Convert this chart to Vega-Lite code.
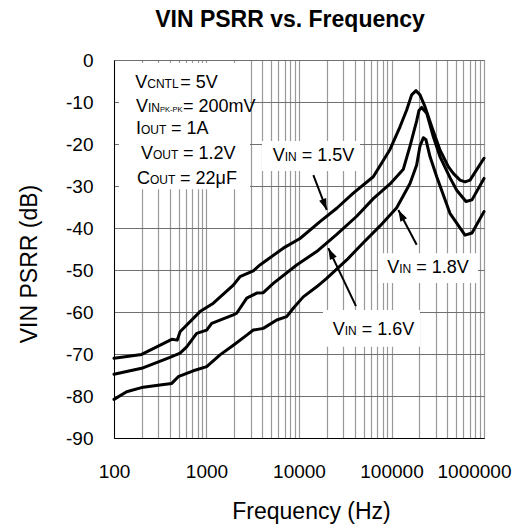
{
  "$schema": "https://vega.github.io/schema/vega-lite/v6.json",
  "width": 370,
  "height": 378,
  "autosize": {"type": "none"},
  "padding": {"left": 114, "top": 60, "right": 42, "bottom": 89},
  "background": "white",
  "config": {
    "view": {"stroke": "#444", "strokeWidth": 1},
    "font": "Liberation Sans"
  },
  "title": {
    "text": "VIN PSRR vs. Frequency",
    "font": "Liberation Sans",
    "fontSize": 23,
    "fontWeight": "bold",
    "color": "black",
    "anchor": "middle",
    "frame": "group",
    "dx": -9,
    "offset": 19
  },
  "datasets": {
    "curves": [
      {"s": "1.5V", "f": 100, "db": -71.0}, {"s": "1.5V", "f": 199, "db": -70.1}, {"s": "1.5V", "f": 421, "db": -66.5},
      {"s": "1.5V", "f": 483, "db": -66.7}, {"s": "1.5V", "f": 518, "db": -64.7}, {"s": "1.5V", "f": 851, "db": -59.9},
      {"s": "1.5V", "f": 1186, "db": -57.9}, {"s": "1.5V", "f": 1950, "db": -53.6}, {"s": "1.5V", "f": 2301, "db": -51.6},
      {"s": "1.5V", "f": 3206, "db": -50.2}, {"s": "1.5V", "f": 3784, "db": -48.8}, {"s": "1.5V", "f": 6761, "db": -44.8},
      {"s": "1.5V", "f": 10257, "db": -42.5}, {"s": "1.5V", "f": 16870, "db": -38.5}, {"s": "1.5V", "f": 25590, "db": -35.3},
      {"s": "1.5V", "f": 38640, "db": -31.7}, {"s": "1.5V", "f": 63530, "db": -27.8}, {"s": "1.5V", "f": 96390, "db": -21.3},
      {"s": "1.5V", "f": 123600, "db": -15.9}, {"s": "1.5V", "f": 145900, "db": -11.9}, {"s": "1.5V", "f": 165200, "db": -8.3},
      {"s": "1.5V", "f": 184100, "db": -7.3}, {"s": "1.5V", "f": 203200, "db": -8.3}, {"s": "1.5V", "f": 230100, "db": -11.1},
      {"s": "1.5V", "f": 272300, "db": -15.9}, {"s": "1.5V", "f": 334200, "db": -21.4}, {"s": "1.5V", "f": 411100, "db": -25.4},
      {"s": "1.5V", "f": 465600, "db": -27.0}, {"s": "1.5V", "f": 550000, "db": -28.6}, {"s": "1.5V", "f": 623700, "db": -29.0},
      {"s": "1.5V", "f": 706300, "db": -28.6}, {"s": "1.5V", "f": 1000000, "db": -23.4},

      {"s": "1.6V", "f": 100, "db": -74.8}, {"s": "1.6V", "f": 199, "db": -73.4}, {"s": "1.6V", "f": 403, "db": -70.8},
      {"s": "1.6V", "f": 518, "db": -69.8}, {"s": "1.6V", "f": 611, "db": -68.3}, {"s": "1.6V", "f": 783, "db": -65.1},
      {"s": "1.6V", "f": 1005, "db": -64.3}, {"s": "1.6V", "f": 1138, "db": -62.7}, {"s": "1.6V", "f": 1950, "db": -60.7},
      {"s": "1.6V", "f": 2118, "db": -60.3}, {"s": "1.6V", "f": 2723, "db": -56.7}, {"s": "1.6V", "f": 3491, "db": -55.5},
      {"s": "1.6V", "f": 4111, "db": -55.4}, {"s": "1.6V", "f": 5272, "db": -53.2}, {"s": "1.6V", "f": 9441, "db": -48.8},
      {"s": "1.6V", "f": 15520, "db": -45.6}, {"s": "1.6V", "f": 25590, "db": -41.5}, {"s": "1.6V", "f": 42070, "db": -37.2},
      {"s": "1.6V", "f": 63530, "db": -33.0}, {"s": "1.6V", "f": 96390, "db": -29.5}, {"s": "1.6V", "f": 134300, "db": -26.0},
      {"s": "1.6V", "f": 158500, "db": -20.5}, {"s": "1.6V", "f": 187100, "db": -14.5}, {"s": "1.6V", "f": 198200, "db": -12.0},
      {"s": "1.6V", "f": 211800, "db": -11.3}, {"s": "1.6V", "f": 240400, "db": -12.7}, {"s": "1.6V", "f": 283300, "db": -18.3},
      {"s": "1.6V", "f": 334200, "db": -23.0}, {"s": "1.6V", "f": 428500, "db": -28.0}, {"s": "1.6V", "f": 507000, "db": -31.0},
      {"s": "1.6V", "f": 638300, "db": -33.7}, {"s": "1.6V", "f": 741300, "db": -33.3}, {"s": "1.6V", "f": 1000000, "db": -28.2},

      {"s": "1.8V", "f": 100, "db": -80.8}, {"s": "1.8V", "f": 137, "db": -79.0}, {"s": "1.8V", "f": 207, "db": -77.9},
      {"s": "1.8V", "f": 314, "db": -77.4}, {"s": "1.8V", "f": 421, "db": -77.0}, {"s": "1.8V", "f": 495, "db": -75.4},
      {"s": "1.8V", "f": 719, "db": -74.0}, {"s": "1.8V", "f": 1005, "db": -73.0}, {"s": "1.8V", "f": 1400, "db": -70.2},
      {"s": "1.8V", "f": 1950, "db": -67.9}, {"s": "1.8V", "f": 2723, "db": -65.5}, {"s": "1.8V", "f": 3206, "db": -64.3},
      {"s": "1.8V", "f": 4111, "db": -63.9}, {"s": "1.8V", "f": 5741, "db": -61.9}, {"s": "1.8V", "f": 7362, "db": -61.1},
      {"s": "1.8V", "f": 8670, "db": -59.1}, {"s": "1.8V", "f": 11117, "db": -56.4}, {"s": "1.8V", "f": 15520, "db": -54.0},
      {"s": "1.8V", "f": 19910, "db": -52.0}, {"s": "1.8V", "f": 32810, "db": -47.6}, {"s": "1.8V", "f": 49550, "db": -43.5},
      {"s": "1.8V", "f": 75160, "db": -39.5}, {"s": "1.8V", "f": 113800, "db": -35.2}, {"s": "1.8V", "f": 158500, "db": -29.4},
      {"s": "1.8V", "f": 187100, "db": -25.0}, {"s": "1.8V", "f": 203200, "db": -20.5}, {"s": "1.8V", "f": 220800, "db": -18.5},
      {"s": "1.8V", "f": 236000, "db": -19.0}, {"s": "1.8V", "f": 260600, "db": -23.0}, {"s": "1.8V", "f": 308300, "db": -27.8},
      {"s": "1.8V", "f": 428500, "db": -36.5}, {"s": "1.8V", "f": 623700, "db": -41.7}, {"s": "1.8V", "f": 741300, "db": -41.2},
      {"s": "1.8V", "f": 1000000, "db": -36.1}
    ],
    "boxes": [
      {"f": 113, "f2": 2950, "db": -0.7, "db2": -30.8},
      {"f": 3981, "f2": 45600, "db": -19.3, "db2": -26.4},
      {"f": 71450, "f2": 861000, "db": -46.0, "db2": -53.1},
      {"f": 18150, "f2": 203200, "db": -59.5, "db2": -68.3}
    ],
    "arrows": [
      {"f": 19950, "db": -35.7, "f2": 14290, "db2": -27.4, "angle": 159},
      {"f": 20750, "db": -44.8, "f2": 41300, "db2": -58.6, "angle": 334},
      {"f": 118600, "db": -35.7, "f2": 187100, "db2": -44.0, "angle": 332}
    ],
    "notes": [
      {"f": 229, "db": -6.6, "big": "V", "small": "CNTL", "tiny": "", "tail": "= 5V", "grp": "CNTL"},
      {"f": 233, "db": -12.4, "big": "V", "small": "IN", "tiny": "PK-PK", "tail": "= 200mV", "grp": "PK"},
      {"f": 196, "db": -17.7, "big": "I", "small": "OUT", "tiny": "", "tail": "= 1A", "grp": "OUT"},
      {"f": 264, "db": -23.6, "big": "V", "small": "OUT", "tiny": "", "tail": "= 1.2V", "grp": "OUT"},
      {"f": 245, "db": -29.6, "big": "C", "small": "OUT", "tiny": "", "tail": "= 22μF", "grp": "OUT"},
      {"f": 7000, "db": -24.0, "big": "V", "small": "IN", "tiny": "", "tail": "= 1.5V", "grp": "IN"},
      {"f": 121400, "db": -50.8, "big": "V", "small": "IN", "tiny": "", "tail": "= 1.8V", "grp": "IN"},
      {"f": 31190, "db": -65.5, "big": "V", "small": "IN", "tiny": "", "tail": "= 1.6V", "grp": "IN"}
    ]
  },
  "encoding": {
    "x": {
      "field": "f",
      "type": "quantitative",
      "scale": {"type": "log", "domain": [100, 1000000], "nice": false},
      "axis": {
        "title": "Frequency (Hz)",
        "values": [100, 200, 300, 400, 500, 600, 700, 800, 900, 1000, 2000, 3000, 4000, 5000, 6000, 7000, 8000, 9000, 10000, 20000, 30000, 40000, 50000, 60000, 70000, 80000, 90000, 100000, 200000, 300000, 400000, 500000, 600000, 700000, 800000, 900000, 1000000],
        "format": "d",
        "labelExpr": "(datum.value == 100 || datum.value == 1000 || datum.value == 10000 || datum.value == 100000 || datum.value == 1000000) ? datum.label : ''",
        "labelFont": "Liberation Sans",
        "labelFontSize": 19,
        "labelColor": "black",
        "labelPadding": 24,
        "labelOverlap": false,
        "labelFlush": false,
        "labelOffset": {"condition": {"test": "datum.value == 1000000", "value": -10}, "value": 0},
        "ticks": false,
        "domainColor": "black",
        "domainWidth": 1,
        "grid": true,
        "gridColor": "#999999",
        "gridWidth": 1.2,
        "titleFont": "Liberation Sans",
        "titleFontSize": 23,
        "titleFontWeight": "normal",
        "titleColor": "black",
        "titleX": 197,
        "titleY": 80,
        "titleAlign": "center",
        "titleBaseline": "alphabetic"
      }
    },
    "y": {
      "field": "db",
      "type": "quantitative",
      "scale": {"domain": [-90, 0], "nice": false, "zero": false},
      "axis": {
        "title": "VIN PSRR (dB)",
        "values": [-90, -80, -70, -60, -50, -40, -30, -20, -10, 0],
        "labelExpr": "'' + datum.value",
        "labelFont": "Liberation Sans",
        "labelFontSize": 19,
        "labelColor": "black",
        "labelPadding": 21,
        "labelOverlap": false,
        "labelFlush": false,
        "ticks": false,
        "domainColor": "black",
        "domainWidth": 1,
        "grid": true,
        "gridColor": "#707070",
        "gridWidth": 1.2,
        "titleFont": "Liberation Sans",
        "titleFontSize": 23,
        "titleFontWeight": "normal",
        "titleColor": "black",
        "titleX": -78,
        "titleY": 203.5,
        "titleAlign": "center",
        "titleBaseline": "alphabetic"
      }
    }
  },
  "layer": [
    {
      "data": {"name": "boxes"},
      "mark": {"type": "rect", "fill": "white", "stroke": null},
      "encoding": {"x2": {"field": "f2"}, "y2": {"field": "db2"}}
    },
    {
      "data": {"name": "curves"},
      "mark": {"type": "line", "color": "black", "strokeWidth": 3, "strokeJoin": "round", "strokeCap": "round"},
      "encoding": {"detail": {"field": "s", "type": "nominal"}}
    },
    {
      "data": {"name": "arrows"},
      "mark": {"type": "rule", "color": "black", "strokeWidth": 2},
      "encoding": {"x2": {"field": "f2"}, "y2": {"field": "db2"}}
    },
    {
      "data": {"name": "arrows"},
      "mark": {"type": "point", "shape": "M0,0 L-0.33,1 L0.33,1 Z", "filled": true, "color": "black", "opacity": 1, "size": 520},
      "encoding": {"angle": {"field": "angle", "type": "quantitative", "scale": null}}
    },
    {
      "data": {"name": "notes"},
      "mark": {"type": "text", "align": "right", "baseline": "alphabetic", "font": "Liberation Sans", "fontSize": 18, "color": "black"},
      "encoding": {"text": {"field": "big"}}
    },
    {
      "data": {"name": "notes"},
      "mark": {"type": "text", "align": "left", "baseline": "alphabetic", "font": "Liberation Sans", "fontSize": 12, "color": "black"},
      "encoding": {"text": {"field": "small"}}
    },
    {
      "data": {"name": "notes"},
      "transform": [{"filter": "datum.tiny != ''"}],
      "mark": {"type": "text", "align": "left", "baseline": "alphabetic", "font": "Liberation Sans", "fontSize": 7.5, "color": "black", "dx": 12},
      "encoding": {"text": {"field": "tiny"}}
    },
    {
      "data": {"name": "notes"},
      "transform": [{"filter": "datum.grp == 'CNTL'"}],
      "mark": {"type": "text", "align": "left", "baseline": "alphabetic", "font": "Liberation Sans", "fontSize": 18, "color": "black", "dx": 33},
      "encoding": {"text": {"field": "tail"}}
    },
    {
      "data": {"name": "notes"},
      "transform": [{"filter": "datum.grp == 'PK'"}],
      "mark": {"type": "text", "align": "left", "baseline": "alphabetic", "font": "Liberation Sans", "fontSize": 18, "color": "black", "dx": 35},
      "encoding": {"text": {"field": "tail"}}
    },
    {
      "data": {"name": "notes"},
      "transform": [{"filter": "datum.grp == 'OUT'"}],
      "mark": {"type": "text", "align": "left", "baseline": "alphabetic", "font": "Liberation Sans", "fontSize": 18, "color": "black", "dx": 30},
      "encoding": {"text": {"field": "tail"}}
    },
    {
      "data": {"name": "notes"},
      "transform": [{"filter": "datum.grp == 'IN'"}],
      "mark": {"type": "text", "align": "left", "baseline": "alphabetic", "font": "Liberation Sans", "fontSize": 18, "color": "black", "dx": 17},
      "encoding": {"text": {"field": "tail"}}
    }
  ]
}
